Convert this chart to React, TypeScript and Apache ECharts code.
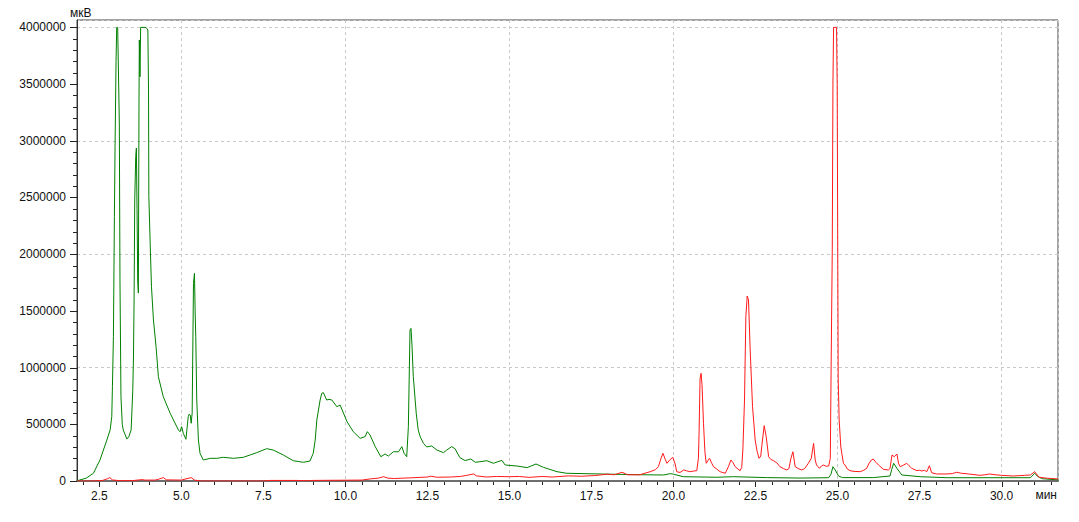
import React, { useEffect, useRef } from "react";
import * as echarts from "echarts";

const X_MIN = 1.82;
const X_MAX = 31.72;
const Y_MAX = 4065000;

const xLabelValues = [2.5, 5, 7.5, 10, 12.5, 15, 17.5, 20, 22.5, 25, 27.5, 30];
const yLabelValues = [0, 500000, 1000000, 1500000, 2000000, 2500000, 3000000, 3500000, 4000000];
const xMinorValues = [2, 3, 3.5, 4, 4.5, 5.5, 6, 6.5, 7, 8, 8.5, 9, 9.5, 10.5, 11, 11.5, 12, 13, 13.5, 14, 14.5, 15.5, 16, 16.5, 17, 18, 18.5, 19, 19.5, 20.5, 21, 21.5, 22, 23, 23.5, 24, 24.5, 25.5, 26, 26.5, 27, 28, 28.5, 29, 29.5, 30.5, 31, 31.5];
const yMinorValues = [100000, 200000, 300000, 400000, 600000, 700000, 800000, 900000, 1100000, 1200000, 1300000, 1400000, 1600000, 1700000, 1800000, 1900000, 2100000, 2200000, 2300000, 2400000, 2600000, 2700000, 2800000, 2900000, 3100000, 3200000, 3300000, 3400000, 3600000, 3700000, 3800000, 3900000];

// green trace: [time (min), signal (µV)]
const greenTrace: [number, number][] = [
  [1.82, 0], [1.86, 5000], [2.1, 25000], [2.32, 68000], [2.52, 185000], [2.73, 361000], [2.83, 450000], [2.88, 567000],
  [2.9, 831000], [2.93, 1272000], [2.96, 2330000], [2.98, 2948000], [3.01, 3700000], [3.03, 4000000], [3.06, 4000000],
  [3.09, 3500000], [3.11, 3157000], [3.13, 1772000], [3.16, 743000], [3.2, 500000], [3.23, 450000], [3.34, 370000],
  [3.4, 390000], [3.47, 450000], [3.52, 800000], [3.54, 1067000], [3.56, 1596000], [3.58, 2478000], [3.61, 2860000],
  [3.63, 2936000], [3.65, 2400000], [3.67, 1772000], [3.69, 1657000], [3.71, 3360000], [3.72, 3889000], [3.74, 3565000],
  [3.76, 4000000], [3.92, 4000000], [3.98, 3977000], [4.0, 3448000], [4.01, 2507000], [4.05, 2099000], [4.09, 1713000],
  [4.15, 1420000], [4.23, 1184000], [4.3, 920000], [4.45, 743000], [4.66, 597000], [4.91, 450000], [4.96, 435000],
  [5.01, 479000], [5.06, 420000], [5.14, 368000], [5.21, 567000], [5.24, 590000], [5.27, 582000], [5.3, 509000],
  [5.33, 600000], [5.37, 1743000], [5.4, 1831000], [5.42, 1500000], [5.44, 1272000], [5.47, 714000], [5.52, 361000],
  [5.57, 244000], [5.67, 185000], [5.88, 200000], [6.08, 200000], [6.28, 209000], [6.59, 200000], [6.89, 209000],
  [7.1, 230000], [7.3, 250000], [7.6, 285000], [7.8, 273000], [8.11, 229000], [8.41, 179000], [8.72, 165000],
  [8.92, 176000], [9.02, 244000], [9.08, 361000], [9.13, 538000], [9.18, 626000], [9.23, 714000], [9.28, 773000],
  [9.33, 779000], [9.43, 714000], [9.5, 720000], [9.59, 714000], [9.74, 655000], [9.84, 670000], [10.05, 523000],
  [10.24, 435000], [10.45, 376000], [10.6, 391000], [10.67, 435000], [10.75, 406000], [10.91, 303000], [11.08, 214000],
  [11.21, 238000], [11.31, 220000], [11.46, 258000], [11.62, 258000], [11.72, 303000], [11.79, 244000], [11.87, 214000],
  [11.92, 479000], [11.97, 1332000], [12.0, 1346000], [12.03, 1200000], [12.07, 920000], [12.16, 597000], [12.22, 450000],
  [12.28, 391000], [12.38, 332000], [12.48, 300000], [12.63, 309000], [12.79, 273000], [12.99, 250000], [13.09, 273000],
  [13.24, 303000], [13.34, 285000], [13.49, 206000], [13.65, 180000], [13.82, 194000], [13.96, 165000], [14.1, 170000],
  [14.31, 179000], [14.51, 156000], [14.77, 182000], [14.87, 141000], [15.23, 132000], [15.54, 118000], [15.81, 150000],
  [16.04, 120000], [16.45, 82000], [16.75, 68000], [17.77, 62000], [18.78, 56000], [19.7, 53000], [19.9, 65000],
  [20.0, 60000], [20.3, 38000], [21.32, 33000], [21.83, 38000], [22.84, 30000], [23.86, 26000], [24.73, 29000],
  [24.8, 60000], [24.86, 126000], [24.93, 97000], [25.03, 44000], [25.15, 30000], [26.09, 30000], [26.6, 44000],
  [26.65, 100000], [26.71, 156000], [26.81, 112000], [26.96, 53000], [27.52, 38000], [28.34, 29000], [30.88, 29000],
  [31.01, 68000], [31.1, 40000], [31.24, 20000], [31.72, 10000],
];

// red trace: [time (min), signal (µV)]
const redTrace: [number, number][] = [
  [1.82, 0], [2.3, 0], [2.6, 5000], [2.75, 20000], [2.82, 30000], [2.9, 10000], [3.1, 3000], [3.5, 3000], [3.8, 12000],
  [3.9, 8000], [4.2, 8000], [4.3, 15000], [4.45, 30000], [4.55, 10000], [5.0, 8000], [5.3, 30000], [5.4, 8000],
  [5.6, 0], [7.5, 0], [7.7, 5000], [8.5, 5000], [8.9, 2000], [9.0, 5000], [10.5, 8000], [10.8, 20000], [11.0, 25000],
  [11.16, 38000], [11.3, 25000], [11.5, 22000], [12.0, 28000], [12.5, 35000], [12.6, 42000], [12.8, 33000],
  [13.2, 35000], [13.5, 40000], [13.7, 50000], [13.9, 62000], [14.0, 45000], [14.3, 35000], [14.6, 40000],
  [15.0, 38000], [15.3, 40000], [15.6, 32000], [16.0, 40000], [16.3, 35000], [16.8, 45000], [17.2, 42000],
  [17.6, 48000], [17.97, 60000], [18.2, 55000], [18.43, 77000], [18.6, 55000], [18.97, 55000], [19.29, 82000],
  [19.45, 100000], [19.54, 126000], [19.62, 200000], [19.68, 244000], [19.75, 190000], [19.8, 156000], [19.9, 190000],
  [19.98, 209000], [20.05, 150000], [20.1, 82000], [20.2, 75000], [20.31, 97000], [20.4, 90000], [20.5, 82000],
  [20.62, 88000], [20.71, 91000], [20.76, 200000], [20.78, 420000], [20.81, 900000], [20.84, 950000], [20.87, 850000],
  [20.915, 509000], [20.96, 250000], [21.0, 156000], [21.05, 180000], [21.1, 200000], [21.16, 160000], [21.22, 126000],
  [21.3, 110000], [21.42, 82000], [21.58, 68000], [21.68, 130000], [21.75, 185000], [21.82, 160000], [21.88, 126000],
  [22.03, 91000], [22.08, 120000], [22.115, 273000], [22.165, 714000], [22.206, 1449000], [22.247, 1631000],
  [22.287, 1596000], [22.338, 1155000], [22.41, 655000], [22.49, 361000], [22.55, 260000], [22.61, 200000],
  [22.66, 220000], [22.69, 303000], [22.765, 488000], [22.826, 391000], [22.9, 214000], [22.97, 190000],
  [23.05, 179000], [23.15, 160000], [23.25, 125000], [23.35, 110000], [23.456, 97000], [23.52, 110000],
  [23.58, 200000], [23.64, 258000], [23.71, 126000], [23.8, 110000], [23.91, 97000], [24.0, 110000], [24.11, 156000],
  [24.2, 200000], [24.27, 332000], [24.32, 185000], [24.36, 141000], [24.45, 112000], [24.52, 135000], [24.58, 141000],
  [24.65, 130000], [24.73, 132000], [24.78, 200000], [24.81, 1155000], [24.84, 2037000], [24.86, 3500000],
  [24.88, 4000000], [24.97, 4000000], [24.99, 3500000], [25.02, 900000], [25.05, 538000], [25.1, 300000],
  [25.18, 156000], [25.23, 141000], [25.3, 105000], [25.38, 91000], [25.5, 85000], [25.69, 82000], [25.8, 95000],
  [25.89, 112000], [25.95, 150000], [26.03, 185000], [26.09, 194000], [26.17, 165000], [26.25, 141000],
  [26.4, 103000], [26.55, 97000], [26.6, 110000], [26.66, 229000], [26.73, 214000], [26.81, 238000], [26.86, 156000],
  [26.91, 126000], [27.01, 140000], [27.11, 156000], [27.18, 135000], [27.26, 112000], [27.42, 91000], [27.5, 95000],
  [27.57, 88000], [27.65, 95000], [27.72, 82000], [27.8, 135000], [27.87, 73000], [28.02, 62000], [28.3, 62000],
  [28.5, 65000], [28.63, 77000], [28.78, 68000], [29.0, 62000], [29.34, 50000], [29.5, 55000], [29.64, 62000],
  [29.8, 55000], [30.0, 50000], [30.36, 44000], [30.7, 50000], [30.88, 53000], [31.01, 82000], [31.14, 33000],
  [31.4, 24000], [31.72, 18000],
];

const FONT = "'Liberation Sans', Arial, sans-serif";
const TICK_COLOR = "#222222";

export default function App() {
  const ref = useRef<HTMLDivElement>(null);
  useEffect(() => {
    if (!ref.current) return;
    const chart = echarts.init(ref.current, undefined, { renderer: "svg" });
    const titles = [
      { type: "text", left: 70, top: 7, style: { text: "мкВ", fontFamily: FONT, fontSize: 12, fill: "#111" } },
      { type: "text", right: 22, top: 489, style: { text: "мин", fontFamily: FONT, fontSize: 12, fill: "#111" } },
    ];
    chart.setOption({
      animation: false,
      backgroundColor: "#ffffff",
      grid: {
        left: 77, top: 20, right: 21, bottom: 41,
        show: true, borderColor: "#444444", borderWidth: 1, backgroundColor: "transparent",
      },
      xAxis: {
        type: "value", min: X_MIN, max: X_MAX,
        axisLine: { show: true, onZero: false, lineStyle: { color: "#6e6e6e", width: 2 } },
        axisTick: { show: false },
        axisLabel: {
          customValues: xLabelValues, formatter: (v: number) => v.toFixed(1),
          color: "#111", fontFamily: FONT, fontSize: 12, margin: 9,
        },
        splitLine: { show: true, lineStyle: { color: "#c8c8c8", type: [3, 3] } },
      },
      yAxis: {
        type: "value", min: 0, max: Y_MAX,
        axisLine: { show: true, lineStyle: { color: "#333333", width: 1 } },
        axisTick: { show: false },
        axisLabel: {
          customValues: yLabelValues, formatter: (v: number) => String(v),
          color: "#111", fontFamily: FONT, fontSize: 12, margin: 11,
        },
        splitLine: { show: true, lineStyle: { color: "#c8c8c8", type: [3, 3] } },
      },
      graphic: titles,
      series: [
        { type: "line", data: greenTrace, showSymbol: false, symbol: "none", lineStyle: { color: "#008000", width: 1 }, z: 3 },
        { type: "line", data: redTrace, showSymbol: false, symbol: "none", lineStyle: { color: "#ff1a1a", width: 1 }, z: 4 },
      ],
    });

    // tick marks placed through the chart's own axis scales
    const ticks: any[] = [];
    const xTick = (v: number, len: number) => {
      const p = chart.convertToPixel({ gridIndex: 0 }, [v, 0]) as number[];
      ticks.push({
        type: "rect", silent: true, z: 100,
        shape: { x: Math.round(p[0]), y: Math.round(p[1]) + 1, width: 1, height: len },
        style: { fill: TICK_COLOR },
      });
    };
    const yTick = (v: number, len: number) => {
      const p = chart.convertToPixel({ gridIndex: 0 }, [X_MIN, v]) as number[];
      ticks.push({
        type: "rect", silent: true, z: 100,
        shape: { x: Math.round(p[0]) - len, y: Math.round(p[1]), width: len, height: 1 },
        style: { fill: TICK_COLOR },
      });
    };
    xLabelValues.forEach((v) => xTick(v, 5));
    xMinorValues.forEach((v) => xTick(v, 3));
    yLabelValues.forEach((v) => yTick(v, 7));
    yMinorValues.forEach((v) => yTick(v, 4));
    chart.setOption({ graphic: [...titles, ...ticks] });

    return () => chart.dispose();
  }, []);
  return <div ref={ref} style={{ position: "fixed", left: 0, top: 0, width: 1079, height: 522 }} />;
}
